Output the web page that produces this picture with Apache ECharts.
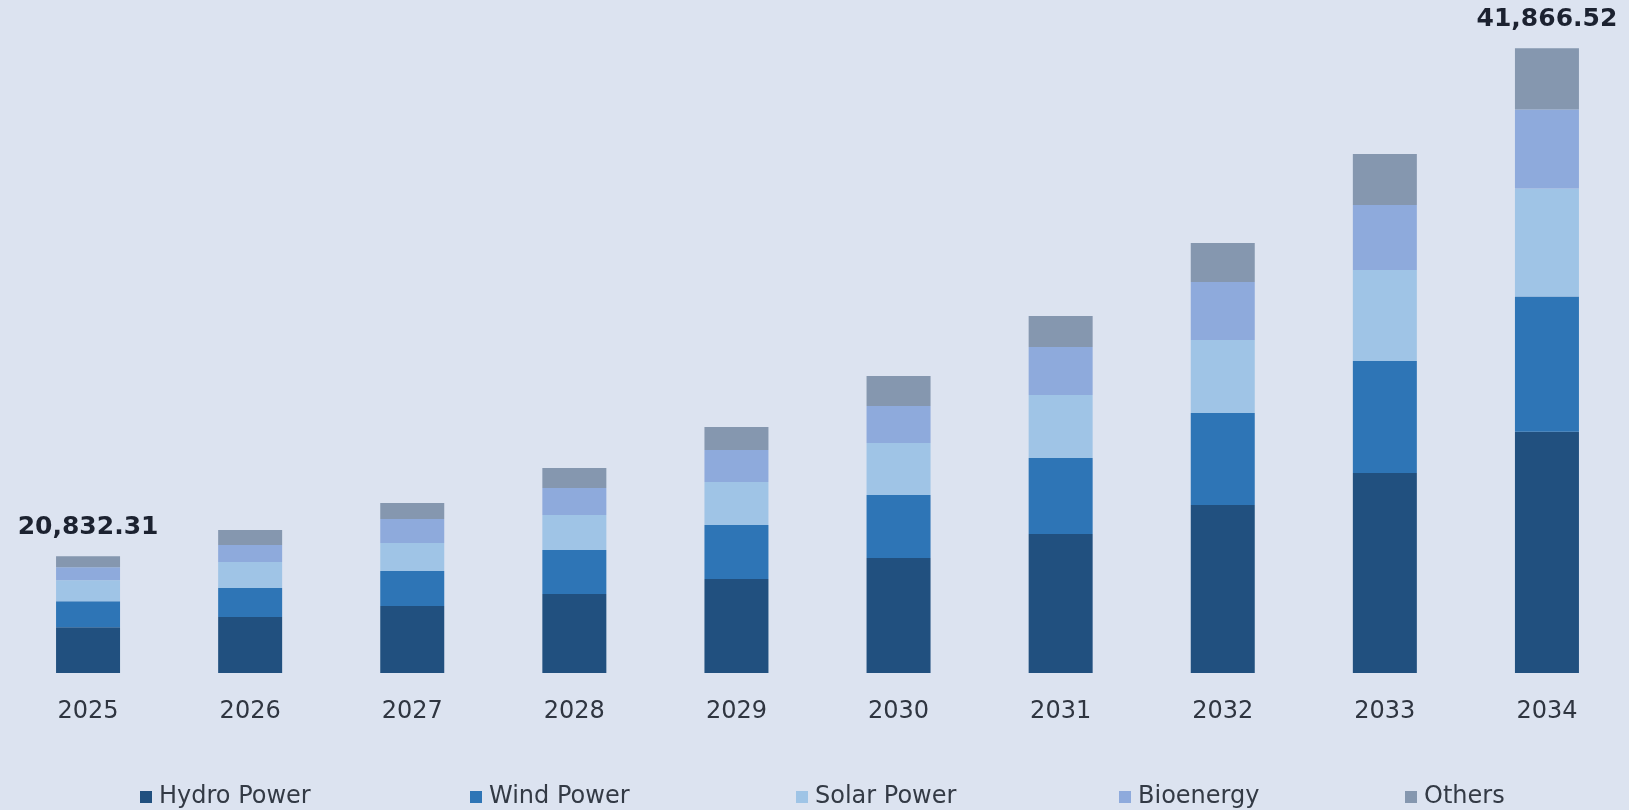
<!DOCTYPE html>
<html>
<head>
<meta charset="utf-8">
<title>Renewable Energy Market Size, 2025–2034</title>
<script src="https://cdn.jsdelivr.net/npm/echarts@6/dist/echarts.min.js"></script>
<style>
  html, body { margin: 0; padding: 0; background: #dce3f0; }
  #chart { width: 1629px; height: 810px; }
</style>
</head>
<body>
<div id="chart"></div>
<script>
// Market size by source (USD million), stacked per year
const years = ['2025', '2026', '2027', '2028', '2029', '2030', '2031', '2032', '2033', '2034'];
const hydroPower = [17893.22, 18316.75, 18773.80, 19270.60, 19891.60, 20761.00, 21754.60, 22955.20, 24280.00, 25990.12];
const windPower  = [1076.45, 1201.34, 1449.00, 1821.60, 2235.60, 2608.20, 3146.40, 3808.80, 4636.80, 5592.40];
const solarPower = [869.30, 1077.12, 1159.20, 1449.00, 1780.20, 2152.80, 2608.20, 3022.20, 3767.40, 4474.85];
const bioenergy  = [538.12, 704.58, 993.60, 1117.80, 1324.80, 1531.80, 1987.20, 2401.20, 2691.00, 3272.93];
const others     = [455.22, 620.47, 662.40, 828.00, 952.20, 1242.00, 1283.40, 1614.60, 2111.40, 2536.22];
const labelledYears = ['2025', '2034'];

const seriesNames = ['Hydro Power', 'Wind Power', 'Solar Power', 'Bioenergy', 'Others'];
const seriesData = [hydroPower, windPower, solarPower, bioenergy, others];
const colors = ['#21507f', '#2e75b6', '#9fc4e6', '#8eaadc', '#8597af'];
// left edge of each legend entry along the bottom row
const legendLeft = [135, 465, 791, 1114, 1400];

function yearTotal(i) {
  return seriesData.reduce((s, arr) => s + arr[i], 0);
}
function fmt(v) {
  const parts = v.toFixed(2).split('.');
  return parts[0].replace(/\B(?=(\d{3})+(?!\d))/g, ',') + '.' + parts[1];
}

const series = seriesNames.map((name, k) => {
  const isTop = k === seriesNames.length - 1;
  return {
    name,
    type: 'bar',
    stack: 'total',
    barWidth: 64,
    itemStyle: { color: colors[k] },
    emphasis: { disabled: true },
    data: seriesData[k].map((v, i) => {
      if (isTop && labelledYears.includes(years[i])) {
        return {
          value: v,
          label: {
            show: true,
            position: 'top',
            distance: 16,
            formatter: () => fmt(yearTotal(i)),
            fontFamily: 'DejaVu Sans',
            fontWeight: 'bold',
            fontSize: 25,
            color: '#1c2230'
          }
        };
      }
      return v;
    })
  };
});

const legends = seriesNames.map((name, k) => ({
  data: [name],
  left: legendLeft[k],
  top: 780,
  itemWidth: 12,
  itemHeight: 12,
  icon: 'rect',
  selectedMode: false,
  textStyle: { fontFamily: 'DejaVu Sans', fontSize: 24, color: '#333a45', padding: [0, 0, 0, 2] }
}));

const chart = echarts.init(document.getElementById('chart'), null, { renderer: 'canvas' });
chart.setOption({
  backgroundColor: '#dce3f0',
  animation: false,
  grid: { left: 7, right: 1, top: 45, bottom: 137 },
  legend: legends,
  xAxis: {
    type: 'category',
    data: years,
    axisLine: { show: false },
    axisTick: { show: false },
    axisLabel: { margin: 27, fontFamily: 'DejaVu Sans', fontSize: 24, color: '#2f3540' }
  },
  yAxis: {
    type: 'value',
    min: 16000,
    max: 42000,
    show: false,
    splitLine: { show: false }
  },
  series
});
</script>
</body>
</html>
